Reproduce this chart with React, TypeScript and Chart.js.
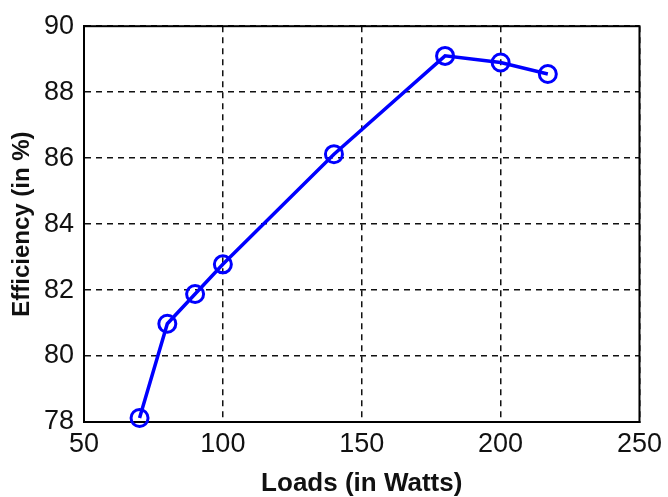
import React, { useEffect, useRef } from "react";
import { Chart, registerables } from "chart.js";

Chart.register(...registerables);

// Measured converter efficiency against output load
const loads = [70, 80, 90, 100, 140, 180, 200, 217];
const efficiency = [78.12, 80.98, 81.88, 82.78, 86.12, 89.1, 88.9, 88.55];

const xTicks = [50, 100, 150, 200, 250];
const yTicks = [78, 80, 82, 84, 86, 88, 90];

const xTitle = "Loads (in Watts)";
const yTitle = "Efficiency (in %)";

const FONT = "'Liberation Sans', Arial, sans-serif";

// Solid box around the plotting area, drawn under the data line
const frame = {
  id: "frame",
  beforeDatasetsDraw(chart: any) {
    const { ctx, chartArea } = chart;
    ctx.save();
    ctx.strokeStyle = "#000";
    ctx.lineWidth = 2;
    ctx.setLineDash([]);
    ctx.strokeRect(
      chartArea.left,
      chartArea.top,
      chartArea.right - chartArea.left,
      chartArea.bottom - chartArea.top
    );
    ctx.restore();
  },
};

export default function App() {
  const ref = useRef<HTMLCanvasElement>(null);

  useEffect(() => {
    document.body.style.margin = "0";
    const chart = new Chart(ref.current!, {
      type: "line",
      data: {
        datasets: [
          {
            data: loads.map((x, i) => ({ x, y: efficiency[i] })),
            borderColor: "#0000ff",
            borderWidth: 3.5,
            pointStyle: "circle",
            pointRadius: 8.5,
            pointBorderWidth: 3,
            pointBorderColor: "#0000ff",
            pointBackgroundColor: "rgba(255,255,255,0)",
            tension: 0,
            clip: false as any,
          },
        ],
      },
      options: {
        animation: false,
        responsive: false,
        maintainAspectRatio: false,
        layout: { padding: { left: 0, right: 26, top: 24, bottom: 0 } },
        plugins: {
          legend: { display: false },
          tooltip: { enabled: false },
        },
        scales: {
          x: {
            type: "linear",
            min: 50,
            max: 250,
            afterBuildTicks: (s: any) => {
              s.ticks = xTicks.map((v) => ({ value: v }));
            },
            afterFit: (s: any) => {
              s.height = 75;
            },
            grid: {
              color: "#111",
              lineWidth: 1.5,
              drawTicks: false,
            },
            border: { display: true, color: "#000", width: 2, dash: [6, 5] },
            ticks: {
              color: "#111",
              padding: 6,
              font: { family: FONT, size: 27 },
              maxRotation: 0,
            },
            title: {
              display: true,
              text: xTitle,
              color: "#111",
              font: { family: FONT, size: 26, weight: "bold", lineHeight: 1 },
              padding: { top: 0, bottom: 0 },
            },
          },
          y: {
            type: "linear",
            min: 78,
            max: 90,
            afterBuildTicks: (s: any) => {
              s.ticks = yTicks.map((v) => ({ value: v }));
            },
            afterFit: (s: any) => {
              s.width = 84;
            },
            grid: {
              color: "#111",
              lineWidth: 1.5,
              drawTicks: false,
            },
            border: { display: true, color: "#000", width: 2, dash: [6, 5] },
            ticks: {
              color: "#111",
              padding: 10,
              font: { family: FONT, size: 27 },
            },
            title: {
              display: true,
              text: yTitle,
              color: "#111",
              font: { family: FONT, size: 24, weight: "bold", lineHeight: 1 },
              padding: { top: 10, bottom: 0 },
            },
          },
        },
      },
      plugins: [frame],
    });
    return () => chart.destroy();
  }, []);

  return (
    <div style={{ position: "fixed", left: 0, top: 0, width: 668, height: 497, background: "#fff" }}>
      <canvas ref={ref} width={668} height={497} />
    </div>
  );
}
